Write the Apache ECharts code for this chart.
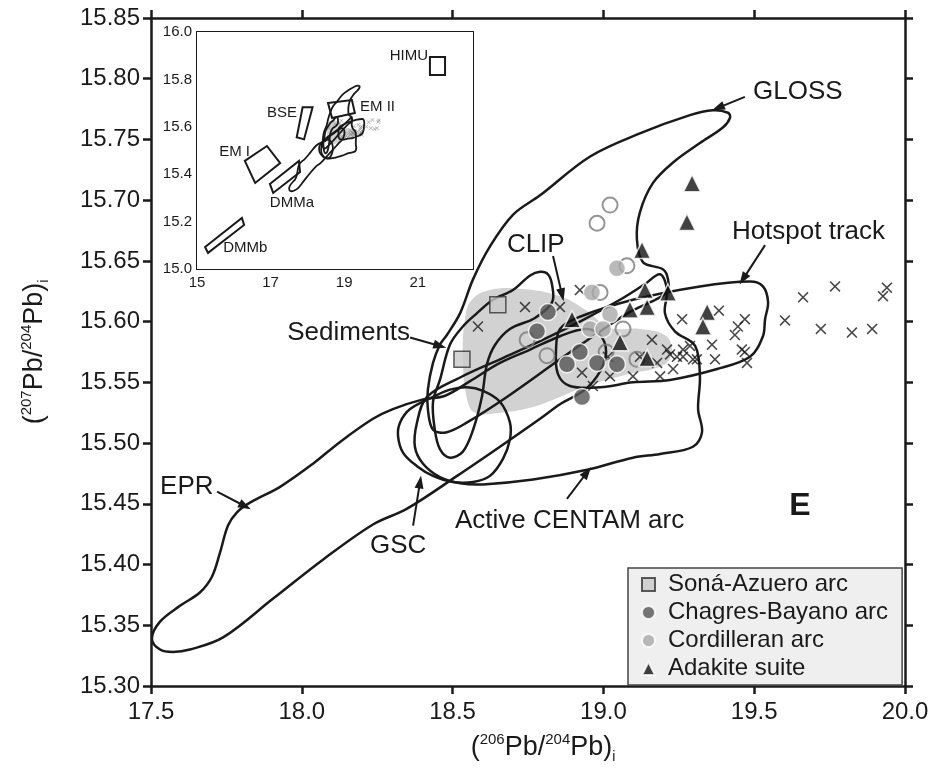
<!DOCTYPE html>
<html>
<head>
<meta charset="utf-8">
<script src="https://cdn.jsdelivr.net/npm/echarts@6/dist/echarts.min.js"></script>
<style>html,body{margin:0;background:#fff}#main{width:937px;height:769px}</style>
</head>
<body>
<div id="main"></div>
<script>
var FONT = 'Liberation Sans, Arial, Helvetica, sans-serif'
    , INK = '#1a1a1a';

// axis ranges [min, max, interval]
var mainX = [17.5, 20.0, 0.5]
    , mainY = [15.30, 15.85, 0.05]
    , insetX = [15, 22.5, 2]
    , insetY = [15.0, 16.0, 0.2];

// samples
var sonaAzuero = [[18.650, 15.614], [18.531, 15.569]];
var chagresBayano = [[18.816, 15.608], [18.780, 15.592], [18.922, 15.575], [18.879, 15.565], [18.979, 15.566], [19.045, 15.565], [18.929, 15.538]];
var cordilleran = [[19.045, 15.644], [18.962, 15.624], [19.022, 15.606], [18.956, 15.594], [18.999, 15.594]];
var openCircles = [[19.022, 15.696], [18.979, 15.681], [19.078, 15.646], [18.989, 15.624], [19.065, 15.594], [18.747, 15.585], [18.813, 15.572], [19.111, 15.569], [19.009, 15.575]];
var adakite = [[19.294, 15.714], [19.277, 15.682], [19.128, 15.659], [19.214, 15.624], [19.138, 15.626], [19.088, 15.610], [19.145, 15.612], [18.896, 15.602], [19.055, 15.583], [19.344, 15.608], [19.330, 15.596], [19.145, 15.570]];
var crosses = [[18.584, 15.596], [18.740, 15.612], [18.856, 15.612], [18.922, 15.626], [18.929, 15.558], [18.965, 15.547], [19.015, 15.571], [19.022, 15.555], [19.098, 15.555], [19.121, 15.571], [19.161, 15.585], [19.178, 15.566], [19.188, 15.555], [19.211, 15.577], [19.231, 15.561], [19.244, 15.571], [19.264, 15.577], [19.287, 15.580], [19.297, 15.569], [19.261, 15.602], [19.383, 15.609], [19.469, 15.602], [19.446, 15.596], [19.436, 15.589], [19.360, 15.581], [19.370, 15.569], [19.459, 15.577], [19.469, 15.575], [19.476, 15.566], [19.310, 15.569], [19.221, 15.573], [19.264, 15.571], [19.602, 15.601], [19.662, 15.620], [19.768, 15.629], [19.721, 15.594], [19.824, 15.591], [19.891, 15.594], [19.940, 15.628], [19.927, 15.621]];

// field outlines
var eprField = [[17.503, 15.339], [17.530, 15.353], [17.596, 15.366], [17.662, 15.377], [17.702, 15.390], [17.729, 15.410], [17.755, 15.432], [17.785, 15.443], [17.828, 15.451], [17.928, 15.464], [18.037, 15.483], [18.127, 15.501], [18.236, 15.520], [18.302, 15.528], [18.402, 15.536], [18.475, 15.539], [18.558, 15.551], [18.657, 15.566], [18.757, 15.577], [18.856, 15.588], [18.939, 15.594], [18.989, 15.589], [19.009, 15.575], [18.989, 15.559], [18.939, 15.544], [18.856, 15.532], [18.790, 15.520], [18.657, 15.497], [18.515, 15.473], [18.349, 15.446], [18.236, 15.433], [18.070, 15.404], [17.905, 15.372], [17.739, 15.340], [17.629, 15.330], [17.573, 15.328], [17.530, 15.330]];
var gscField = [[18.435, 15.538], [18.359, 15.528], [18.326, 15.517], [18.319, 15.506], [18.336, 15.492], [18.382, 15.481], [18.435, 15.473], [18.501, 15.468], [18.568, 15.468], [18.624, 15.473], [18.667, 15.487], [18.690, 15.503], [18.690, 15.517], [18.657, 15.534], [18.601, 15.543], [18.548, 15.546], [18.491, 15.544]];
var centamField = [[18.415, 15.538], [18.525, 15.554], [18.657, 15.569], [18.790, 15.584], [18.922, 15.600], [19.055, 15.618], [19.138, 15.631], [19.188, 15.639], [19.211, 15.626], [19.204, 15.607], [19.237, 15.592], [19.304, 15.580], [19.320, 15.555], [19.314, 15.528], [19.327, 15.509], [19.297, 15.497], [19.188, 15.491], [19.098, 15.488], [18.946, 15.478], [18.767, 15.470], [18.601, 15.466], [18.525, 15.467], [18.458, 15.472], [18.402, 15.483], [18.375, 15.497], [18.382, 15.517]];
var sedimentField = [[19.413, 15.772], [19.420, 15.768], [19.397, 15.760], [19.320, 15.747], [19.231, 15.731], [19.164, 15.714], [19.121, 15.690], [19.111, 15.668], [19.131, 15.649], [19.198, 15.643], [19.214, 15.635], [19.211, 15.624], [19.088, 15.608], [18.972, 15.589], [18.856, 15.569], [18.680, 15.538], [18.548, 15.517], [18.481, 15.509], [18.435, 15.511], [18.418, 15.528], [18.418, 15.544], [18.435, 15.566], [18.458, 15.581], [18.481, 15.589], [18.525, 15.607], [18.568, 15.635], [18.624, 15.662], [18.700, 15.688], [18.790, 15.704], [18.956, 15.736], [19.121, 15.755], [19.287, 15.770], [19.363, 15.774]];
var clipField = [[18.458, 15.552], [18.491, 15.581], [18.534, 15.596], [18.581, 15.607], [18.634, 15.618], [18.700, 15.626], [18.757, 15.638], [18.790, 15.641], [18.816, 15.639], [18.830, 15.630], [18.830, 15.616], [18.773, 15.603], [18.690, 15.594], [18.641, 15.581], [18.614, 15.565], [18.597, 15.538], [18.568, 15.511], [18.534, 15.493], [18.491, 15.488], [18.458, 15.495], [18.441, 15.511], [18.435, 15.534]];
var hotspotField = [[18.856, 15.594], [18.922, 15.604], [19.098, 15.618], [19.320, 15.629], [19.486, 15.633], [19.529, 15.629], [19.546, 15.616], [19.536, 15.602], [19.529, 15.588], [19.486, 15.571], [19.377, 15.561], [19.221, 15.552], [19.098, 15.550], [18.989, 15.546], [18.889, 15.547], [18.849, 15.557], [18.843, 15.577]];
var shadedField = [[18.564, 15.618], [18.624, 15.626], [18.723, 15.627], [18.856, 15.621], [18.939, 15.610], [19.022, 15.595], [19.121, 15.594], [19.204, 15.589], [19.227, 15.577], [19.204, 15.565], [19.088, 15.557], [18.956, 15.548], [18.856, 15.538], [18.757, 15.529], [18.657, 15.525], [18.574, 15.525], [18.548, 15.536], [18.534, 15.569], [18.541, 15.602]];
var fields = [eprField, gscField, centamField, sedimentField, clipField, hotspotField];

// text annotations: [text, x, y, align]
var fieldLabels = [
    ['GLOSS', 19.496, 15.789, 'left'],
    ['Hotspot track', 19.426, 15.674, 'left'],
    ['CLIP', 18.680, 15.663, 'left'],
    ['Sediments', 18.359, 15.591, 'right'],
    ['EPR', 17.530, 15.464, 'left'],
    ['GSC', 18.226, 15.415, 'left'],
    ['Active CENTAM arc', 18.508, 15.436, 'left']
];
// arrows: [x1, y1, x2(tip), y2(tip)]
var labelArrows = [
    [19.469, 15.785, 19.380, 15.776],
    [19.536, 15.663, 19.463, 15.635],
    [18.833, 15.654, 18.863, 15.622],
    [18.359, 15.587, 18.458, 15.580],
    [17.719, 15.460, 17.812, 15.448],
    [18.369, 15.432, 18.392, 15.468],
    [18.879, 15.454, 18.946, 15.476]
];
var panelLetter = [['E', 19.652, 15.448, 'center']];

// inset: mantle end members
var himuBox = [[21.33, 15.819], [21.33, 15.895], [21.74, 15.895], [21.74, 15.819]];
var bseBox = [[17.71, 15.556], [17.87, 15.682], [18.14, 15.682], [17.91, 15.547]];
var em1Box = [[16.30, 15.456], [16.90, 15.519], [17.26, 15.447], [16.58, 15.363]];
var em2Box = [[18.56, 15.700], [19.21, 15.713], [19.29, 15.658], [18.67, 15.637]];
var dmmaBox = [[16.98, 15.359], [17.77, 15.456], [17.80, 15.409], [17.07, 15.321]];
var dmmbBox = [[15.22, 15.093], [16.22, 15.215], [16.28, 15.186], [15.30, 15.068]];
var endMembers = [himuBox, bseBox, em1Box, em2Box, dmmaBox, dmmbBox];
var insetLabels = [
    ['HIMU', 21.28, 15.900, 'right'],
    ['BSE', 17.72, 15.658, 'right'],
    ['EM I', 16.44, 15.494, 'right'],
    ['EM II', 19.43, 15.684, 'left'],
    ['DMMa', 16.98, 15.278, 'left'],
    ['DMMb', 15.71, 15.089, 'left']
];

var crossPath = 'path://M0,1L1,0L5,4L9,0L10,1L6,5L10,9L9,10L5,6L1,10L0,9L4,5Z';

function outlineSeries(pts, ai, lw, smooth, z) {
    return {
        type: 'custom', xAxisIndex: ai, yAxisIndex: ai, data: [pts[0]], silent: true, z: z, clip: true,
        renderItem: function (params, api) {
            return {
                type: 'polygon',
                shape: { points: pts.map(function (p) { return api.coord(p); }), smooth: smooth },
                style: { fill: 'none', stroke: INK, lineWidth: lw }
            };
        }
    };
}

function shadeSeries(pts, ai, z) {
    return {
        type: 'custom', xAxisIndex: ai, yAxisIndex: ai, data: [pts[0]], silent: true, z: z, clip: true,
        renderItem: function (params, api) {
            return {
                type: 'polygon',
                shape: { points: pts.map(function (p) { return api.coord(p); }), smooth: 0.4 },
                style: { fill: '#d2d2d2', stroke: 'none' }
            };
        }
    };
}

function textSeries(items, ai, size, weight, z) {
    return {
        type: 'custom', xAxisIndex: ai, yAxisIndex: ai, silent: true, z: z,
        data: items.map(function (d) { return [d[1], d[2]]; }),
        renderItem: function (params, api) {
            var d = items[params.dataIndex];
            var p = api.coord([api.value(0), api.value(1)]);
            return {
                type: 'text', x: p[0], y: p[1],
                style: {
                    text: d[0], fill: INK, font: weight + ' ' + size + 'px ' + FONT,
                    align: d[3], textAlign: d[3], verticalAlign: 'middle', textVerticalAlign: 'middle'
                }
            };
        }
    };
}

function axisBase(extra) {
    var base = {
        type: 'value',
        axisLine: { show: true, onZero: false, lineStyle: { color: INK, width: 2.5 } },
        axisTick: { show: true, inside: false, length: 8, lineStyle: { color: INK, width: 2.5 } },
        axisLabel: { show: false },
        splitLine: { show: false }
    };
    return Object.assign(base, extra);
}

var myChart = echarts.init(document.getElementById('main'));

var series = [];
series.push(shadeSeries(shadedField, 0, 1));
series.push({
    type: 'scatter', name: 'crosses', xAxisIndex: 0, yAxisIndex: 0, z: 2, silent: true,
    symbol: crossPath, symbolSize: 11, data: crosses,
    itemStyle: { color: INK },
    markLine: {
        silent: true, symbol: ['none', 'triangle'], symbolSize: [9, 13],
        lineStyle: { color: INK, width: 2, type: 'solid' },
        label: { show: false },
        emphasis: { disabled: true },
        data: labelArrows.map(function (a) { return [{ coord: [a[0], a[1]] }, { coord: [a[2], a[3]] }]; })
    }
});
fields.forEach(function (f) { series.push(outlineSeries(f, 0, 2.5, 0.35, 3)); });
series.push({
    type: 'scatter', name: 'open', xAxisIndex: 0, yAxisIndex: 0, z: 4, silent: true,
    symbol: 'circle', symbolSize: 15, data: openCircles,
    itemStyle: { color: 'rgba(255,255,255,0)', borderColor: '#7a7a7a', borderWidth: 2 }
});
series.push({
    type: 'scatter', name: 'Soná-Azuero arc', xAxisIndex: 0, yAxisIndex: 0, z: 5,
    symbol: 'rect', symbolSize: 16, data: sonaAzuero,
    itemStyle: { color: '#c9c9c9', borderColor: '#333', borderWidth: 1.5 }
});
series.push({
    type: 'scatter', name: 'Chagres-Bayano arc', xAxisIndex: 0, yAxisIndex: 0, z: 5,
    symbol: 'circle', symbolSize: 17, data: chagresBayano,
    itemStyle: { color: '#555', borderColor: '#fff', borderWidth: 1.5 }
});
series.push({
    type: 'scatter', name: 'Cordilleran arc', xAxisIndex: 0, yAxisIndex: 0, z: 5,
    symbol: 'circle', symbolSize: 17, data: cordilleran,
    itemStyle: { color: '#a9a9a9', borderColor: '#fff', borderWidth: 1.5 }
});
series.push({
    type: 'scatter', name: 'Adakite suite', xAxisIndex: 0, yAxisIndex: 0, z: 6,
    symbol: 'triangle', symbolSize: 17, data: adakite,
    itemStyle: { color: '#111', borderColor: '#fff', borderWidth: 1.5 }
});
series.push(textSeries(fieldLabels, 0, 26, 'normal', 8));
series.push(textSeries(panelLetter, 0, 32, 'bold', 8));

// inset
series.push(shadeSeries(shadedField, 2, 11));
series.push({
    type: 'scatter', xAxisIndex: 2, yAxisIndex: 2, z: 12, silent: true,
    symbol: crossPath, symbolSize: 4, data: crosses, itemStyle: { color: '#888' }
});
fields.forEach(function (f) { series.push(outlineSeries(f, 2, 1.8, 0.35, 13)); });
endMembers.forEach(function (f) { series.push(outlineSeries(f, 2, 2, 0, 13)); });
series.push(textSeries(insetLabels, 2, 15, 'normal', 14));

var option = {
    animation: false,
    backgroundColor: '#fff',
    textStyle: { fontFamily: FONT },
    grid: [
        { left: 151, top: 18, width: 754, height: 669 },
        { left: 197, top: 32, width: 276, height: 237, show: true, backgroundColor: '#fff', borderWidth: 0, z: 10 }
    ],
    legend: {
        left: 628, top: 568, orient: 'vertical', selectedMode: false,
        data: ['Soná-Azuero arc', 'Chagres-Bayano arc', 'Cordilleran arc', 'Adakite suite'],
        itemWidth: 13, itemHeight: 13, itemGap: 1,
        padding: [3, 14, 3, 13],
        backgroundColor: '#efefef', borderColor: '#444', borderWidth: 1.5,
        textStyle: { fontSize: 24, fontFamily: FONT, color: INK, lineHeight: 27, padding: [0, 0, 0, 8] }
    },
    xAxis: [
        axisBase({
            gridIndex: 0, position: 'bottom', min: mainX[0], max: mainX[1], interval: mainX[2],
            axisLabel: { show: true, fontSize: 24, color: INK, margin: 14, formatter: function (v) { return v.toFixed(1); } },
            name: '{p|(}{s|206}{p|Pb/}{s|204}{p|Pb)}{b|i}', nameLocation: 'middle', nameGap: 46,
            nameTextStyle: {
                padding: [0, 0, 0, 30],
                rich: {
                    p: { fontSize: 27, lineHeight: 32, color: INK, fontFamily: FONT },
                    s: { fontSize: 15, lineHeight: 15, verticalAlign: 'top', color: INK, fontFamily: FONT },
                    b: { fontSize: 14, lineHeight: 14, verticalAlign: 'bottom', color: INK, fontFamily: FONT }
                }
            }
        }),
        axisBase({ gridIndex: 0, position: 'top', min: mainX[0], max: mainX[1], interval: mainX[2] }),
        axisBase({
            gridIndex: 1, position: 'bottom', min: insetX[0], max: insetX[1], interval: insetX[2],
            axisLine: { show: true, onZero: false, lineStyle: { color: INK, width: 2 } },
            axisTick: { show: true, inside: true, length: 4, lineStyle: { color: INK, width: 1.5 } },
            axisLabel: { show: true, fontSize: 15, color: INK, margin: 6, showMaxLabel: false }
        }),
        axisBase({
            gridIndex: 1, position: 'top', min: insetX[0], max: insetX[1], interval: insetX[2],
            axisLine: { show: true, onZero: false, lineStyle: { color: INK, width: 2 } },
            axisTick: { show: true, inside: true, length: 4, lineStyle: { color: INK, width: 1.5 } }
        })
    ],
    yAxis: [
        axisBase({
            gridIndex: 0, position: 'left', min: mainY[0], max: mainY[1], interval: mainY[2],
            axisLabel: { show: true, fontSize: 24, color: INK, margin: 11, formatter: function (v) { return v.toFixed(2); } },
            name: '{p|(}{s|207}{p|Pb/}{s|204}{p|Pb)}{b|i}', nameLocation: 'middle', nameGap: 100, nameRotate: 90,
            nameTextStyle: {
                rich: {
                    p: { fontSize: 27, lineHeight: 32, color: INK, fontFamily: FONT },
                    s: { fontSize: 15, lineHeight: 15, verticalAlign: 'top', color: INK, fontFamily: FONT },
                    b: { fontSize: 14, lineHeight: 14, verticalAlign: 'bottom', color: INK, fontFamily: FONT }
                }
            }
        }),
        axisBase({ gridIndex: 0, position: 'right', min: mainY[0], max: mainY[1], interval: mainY[2] }),
        axisBase({
            gridIndex: 1, position: 'left', min: insetY[0], max: insetY[1], interval: insetY[2],
            axisLine: { show: true, onZero: false, lineStyle: { color: INK, width: 2 } },
            axisTick: { show: true, inside: true, length: 4, lineStyle: { color: INK, width: 1.5 } },
            axisLabel: { show: true, fontSize: 15, color: INK, margin: 5, formatter: function (v) { return v.toFixed(1); } }
        }),
        axisBase({
            gridIndex: 1, position: 'right', min: insetY[0], max: insetY[1], interval: 0.1,
            axisLine: { show: true, onZero: false, lineStyle: { color: INK, width: 2 } },
            axisTick: { show: true, inside: true, length: 4, lineStyle: { color: INK, width: 1.5 } }
        })
    ],
    series: series
};

myChart.setOption(option);
</script>
</body>
</html>
